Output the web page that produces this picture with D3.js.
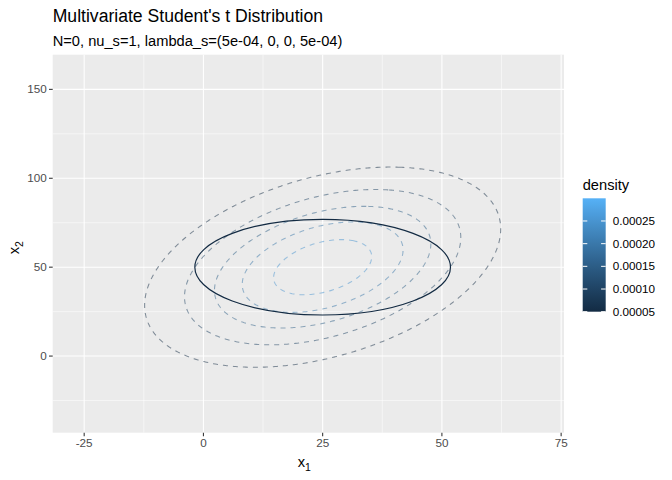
<!DOCTYPE html>
<html>
<head>
<meta charset="utf-8">
<script src="https://cdn.jsdelivr.net/npm/d3@7"></script>
<style>
  html, body { margin: 0; padding: 0; background: #ffffff; }
  text { font-family: "Liberation Sans", Arial, Helvetica, sans-serif; }
</style>
</head>
<body>
<svg id="chart" width="672" height="480"></svg>
<script>
// ---------- data ----------
const titleText = "Multivariate Student's t Distribution";
const subtitleText = "N=0, nu_s=1, lambda_s=(5e-04, 0, 0, 5e-04)";
const xTicks = [-25, 0, 25, 50, 75];
const yTicks = [0, 50, 100, 150];
const xMinorTicks = [-12.5, 12.5, 37.5, 62.5];
const yMinorTicks = [-25, 25, 75, 125];
const xDomain = [-31.6, 75.6];
const yDomain = [-43.1, 169.5];
// density surface
const densityMean = [25, 50];
const densityCov = [[400, 230], [230, 910]];
const contourLevels = [0.00005, 0.0001, 0.00015, 0.0002, 0.00025];
// solid ellipse
const ellipseCenter = [25, 50];
const ellipseRadius = [26.8, 26.9];
const ellipseLevel = 0.00005;
// legend
const densityLimits = [0.00005, 0.0003];
const legendBreaks = [0.00005, 0.0001, 0.00015, 0.0002, 0.00025];
const legendLabels = ["0.00005", "0.00010", "0.00015", "0.00020", "0.00025"];

// ---------- layout ----------
const W = 672, H = 480;
const panel = {left: 52.7, right: 564, top: 54.7, bottom: 432.7};
const svg = d3.select("#chart");

const x = d3.scaleLinear().domain(xDomain).range([panel.left, panel.right]);
const y = d3.scaleLinear().domain(yDomain).range([panel.bottom, panel.top]);
const colour = d3.scaleLinear().domain(densityLimits)
  .range(["#132B43", "#56B1F7"]).interpolate(d3.interpolateLab);

// panel background
svg.append("rect").attr("x", panel.left).attr("y", panel.top)
  .attr("width", panel.right - panel.left).attr("height", panel.bottom - panel.top)
  .attr("fill", "#EBEBEB");

const grid = svg.append("g");
grid.selectAll(".xminor").data(xMinorTicks).join("line")
  .attr("x1", d => x(d)).attr("x2", d => x(d))
  .attr("y1", panel.top).attr("y2", panel.bottom)
  .attr("stroke", "#fff").attr("stroke-width", 0.53);
grid.selectAll(".yminor").data(yMinorTicks).join("line")
  .attr("y1", d => y(d)).attr("y2", d => y(d))
  .attr("x1", panel.left).attr("x2", panel.right)
  .attr("stroke", "#fff").attr("stroke-width", 0.53);
grid.selectAll(".xmajor").data(xTicks).join("line")
  .attr("x1", d => x(d)).attr("x2", d => x(d))
  .attr("y1", panel.top).attr("y2", panel.bottom)
  .attr("stroke", "#fff").attr("stroke-width", 1.07);
grid.selectAll(".ymajor").data(yTicks).join("line")
  .attr("y1", d => y(d)).attr("y2", d => y(d))
  .attr("x1", panel.left).attr("x2", panel.right)
  .attr("stroke", "#fff").attr("stroke-width", 1.07);

// ---------- density contours ----------
const nx = 300, ny = 300;
const dxg = (xDomain[1] - xDomain[0]) / (nx - 1);
const dyg = (yDomain[1] - yDomain[0]) / (ny - 1);
const sxx = densityCov[0][0], syy = densityCov[1][1], sxy = densityCov[0][1];
const det = sxx * syy - sxy * sxy;
const norm = 1 / (2 * Math.PI * Math.sqrt(det));
const values = new Float64Array(nx * ny);
for (let j = 0; j < ny; j++) {
  for (let i = 0; i < nx; i++) {
    const ux = xDomain[0] + i * dxg - densityMean[0];
    const uy = yDomain[0] + j * dyg - densityMean[1];
    const q = (syy * ux * ux - 2 * sxy * ux * uy + sxx * uy * uy) / det;
    values[j * nx + i] = norm * Math.exp(-q / 2);
  }
}
const contours = d3.contours().size([nx, ny]).thresholds(contourLevels)(values);
const gx = c => xDomain[0] + (c - 0.5) * dxg;
const gy = c => yDomain[0] + (c - 0.5) * dyg;
const line = d3.line().x(p => x(gx(p[0]))).y(p => y(gy(p[1])));

const clip = svg.append("clipPath").attr("id", "pclip").append("rect")
  .attr("x", panel.left).attr("y", panel.top)
  .attr("width", panel.right - panel.left).attr("height", panel.bottom - panel.top);
const cg = svg.append("g").attr("clip-path", "url(#pclip)");

contours.forEach(c => {
  c.coordinates.forEach(poly => {
    poly.forEach(ring => {
      cg.append("path")
        .attr("d", line(ring) + "Z")
        .attr("fill", "none")
        .attr("stroke", colour(c.value))
        .attr("stroke-opacity", 0.5)
        .attr("stroke-width", 1.07)
        .attr("stroke-dasharray", "5,5");
    });
  });
});

// solid ellipse
cg.append("ellipse")
  .attr("cx", x(ellipseCenter[0])).attr("cy", y(ellipseCenter[1]))
  .attr("rx", x(ellipseCenter[0] + ellipseRadius[0]) - x(ellipseCenter[0]))
  .attr("ry", y(ellipseCenter[1]) - y(ellipseCenter[1] + ellipseRadius[1]))
  .attr("fill", "none").attr("stroke", colour(ellipseLevel)).attr("stroke-width", 1.2);

// ---------- axes ----------
const axisG = svg.append("g");
axisG.selectAll(".xt").data(xTicks).join("line")
  .attr("x1", d => x(d)).attr("x2", d => x(d))
  .attr("y1", panel.bottom).attr("y2", panel.bottom + 3.67)
  .attr("stroke", "#333333").attr("stroke-width", 1.07);
axisG.selectAll(".xl").data(xTicks).join("text")
  .attr("x", d => x(d)).attr("y", panel.bottom + 14.6)
  .attr("text-anchor", "middle").attr("font-size", 11.7).attr("fill", "#4D4D4D")
  .text(d => d);
axisG.selectAll(".yt").data(yTicks).join("line")
  .attr("y1", d => y(d)).attr("y2", d => y(d))
  .attr("x1", panel.left - 3.67).attr("x2", panel.left)
  .attr("stroke", "#333333").attr("stroke-width", 1.07);
axisG.selectAll(".yl").data(yTicks).join("text")
  .attr("x", panel.left - 6).attr("y", d => y(d) + 4.1)
  .attr("text-anchor", "end").attr("font-size", 11.7).attr("fill", "#4D4D4D")
  .text(d => d);

// axis titles
const xt = svg.append("text").attr("x", (panel.left + panel.right) / 2 - 4).attr("y", 467)
  .attr("text-anchor", "middle").attr("font-size", 14.67).attr("fill", "#000");
xt.append("tspan").text("x");
xt.append("tspan").attr("font-size", 10.5).attr("dy", 3.5).text("1");

const yt = svg.append("text")
  .attr("transform", `translate(19,${(panel.top + panel.bottom) / 2 + 4}) rotate(-90)`)
  .attr("text-anchor", "middle").attr("font-size", 14.67).attr("fill", "#000");
yt.append("tspan").text("x");
yt.append("tspan").attr("font-size", 10.5).attr("dy", 3.5).text("2");

// titles
svg.append("text").attr("x", panel.left).attr("y", 22)
  .attr("font-size", 17.6).attr("fill", "#000").text(titleText);
svg.append("text").attr("x", panel.left).attr("y", 46)
  .attr("font-size", 14.67).attr("fill", "#000").text(subtitleText);

// ---------- legend ----------
const bar = {x: 582.7, y: 198.3, w: 23, h: 113.4};
const lg = svg.append("g");
lg.append("text").attr("x", bar.x).attr("y", 190).attr("font-size", 14.67)
  .attr("fill", "#000").text("density");
const defs = svg.append("defs");
const grad = defs.append("linearGradient").attr("id", "dgrad")
  .attr("x1", 0).attr("y1", 1).attr("x2", 0).attr("y2", 0);
d3.range(0, 1.0001, 0.05).forEach(t => {
  grad.append("stop").attr("offset", t)
    .attr("stop-color", colour(densityLimits[0] + t * (densityLimits[1] - densityLimits[0])));
});
lg.append("rect").attr("x", bar.x).attr("y", bar.y).attr("width", bar.w).attr("height", bar.h)
  .attr("fill", "url(#dgrad)");
const ly = d3.scaleLinear().domain(densityLimits).range([bar.y + bar.h, bar.y]);
legendBreaks.forEach((b, i) => {
  const yy = ly(b);
  lg.append("line").attr("x1", bar.x).attr("x2", bar.x + 4.6).attr("y1", yy).attr("y2", yy)
    .attr("stroke", "#fff").attr("stroke-width", 1);
  lg.append("line").attr("x1", bar.x + bar.w - 4.6).attr("x2", bar.x + bar.w).attr("y1", yy).attr("y2", yy)
    .attr("stroke", "#fff").attr("stroke-width", 1);
  lg.append("text").attr("x", bar.x + bar.w + 7).attr("y", yy + 4.1)
    .attr("font-size", 11.7).attr("fill", "#000").text(legendLabels[i]);
});
</script>
</body>
</html>
